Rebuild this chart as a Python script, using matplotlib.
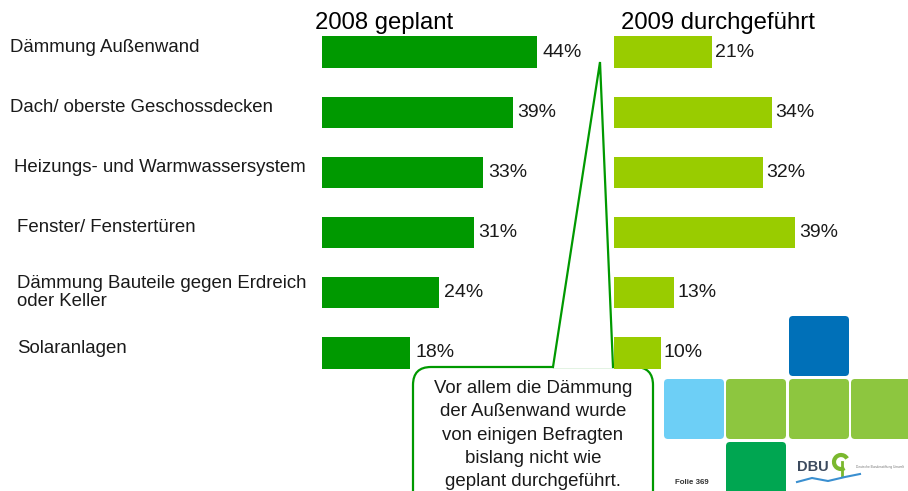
import matplotlib
matplotlib.use('Agg')
import matplotlib.pyplot as plt
import matplotlib.transforms as mtransforms
from matplotlib.patches import FancyBboxPatch, Polygon, Arc

plt.rcParams['font.family'] = ['Liberation Sans', 'DejaVu Sans']

# ===== DATEN =====
categories = [
    'Dämmung Außenwand',
    'Dach/ oberste Geschossdecken',
    'Heizungs- und Warmwassersystem',
    'Fenster/ Fenstertüren',
    'Dämmung Bauteile gegen Erdreich\noder Keller',
    'Solaranlagen',
]
geplant_2008 = [44, 39, 33, 31, 24, 18]
durchgefuehrt_2009 = [21, 34, 32, 39, 13, 10]
series_titles = ['2008 geplant', '2009 durchgeführt']
callout_text = ('Vor allem die Dämmung\nder Außenwand wurde\nvon einigen Befragten\n'
                'bislang nicht wie\ngeplant durchgeführt.')

# Einrückung der Kategorie-Beschriftungen (Pixel)
label_x = [10, 10, 14, 17, 17, 17]

W, H = 908, 491
fig = plt.figure(figsize=(W / 100, H / 100), dpi=100)

DARK_GREEN = '#009900'
LIGHT_GREEN = '#99cc00'

# Achsen in Pixelkoordinaten: Zeilen von y=22 bis y=383
y_top, y_bot = 22, 383
bottom = (H - y_bot) / H
height = (y_bot - y_top) / H
ax1 = fig.add_axes([322 / W, bottom, 50 * 4.89 / W, height])
ax2 = fig.add_axes([614 / W, bottom, 50 * 4.65 / W, height])

for ax, vals, color, off in [(ax1, geplant_2008, DARK_GREEN, 3.6),
                             (ax2, durchgefuehrt_2009, LIGHT_GREEN, 2.5)]:
    ypos = list(range(len(vals)))
    ax.barh(ypos, vals, height=0.52, color=color)
    for y, v in zip(ypos, vals):
        ax.annotate(f'{v}%', (v, y), xytext=(off, 0), textcoords='offset points',
                    va='center', ha='left', fontsize=14, color='#1a1a1a')
    ax.set_xlim(0, 50)
    ax.set_ylim(len(vals) - 0.5, -0.5)
    ax.axis('off')

# Kategorie-Beschriftungen
trans = mtransforms.blended_transform_factory(fig.transFigure, ax1.transData)
for i, (cat, lx) in enumerate(zip(categories, label_x)):
    dy = -0.08 if '\n' not in cat else 0.0
    ax1.text(lx / W, i + dy, cat, transform=trans, ha='left', va='center',
             fontsize=13.4, linespacing=1.05, color='#1a1a1a', clip_on=False)

# ===== Overlay in Pixelkoordinaten =====
deco = fig.add_axes([0, 0, 1, 1], zorder=-1)
deco.set_xlim(0, W)
deco.set_ylim(H, 0)
deco.axis('off')

deco.text(315, 29, series_titles[0], fontsize=17.2, ha='left', va='baseline')
deco.text(621, 29, series_titles[1], fontsize=17.2, ha='left', va='baseline')

# Sprechblase
box = FancyBboxPatch((413 + 18, 367 + 18), 240 - 36, 160, boxstyle='round,pad=18',
                     fc='white', ec=DARK_GREEN, lw=1.6)
deco.add_patch(box)
deco.add_patch(Polygon([(553, 368), (600, 62), (613, 368)], closed=True,
                       fc='white', ec='none'))
deco.plot([553, 600, 613], [367, 62, 367], color=DARK_GREEN, lw=1.6,
          solid_joinstyle='miter')
deco.text(533, 435, callout_text, ha='center', va='center', fontsize=13.4,
          linespacing=1.48, color='#1a1a1a')

# DBU-Logo (Kacheln)
tiles = [(789, 316, '#0070b8'), (664, 379, '#6dcff6'), (726, 379, '#8dc63f'),
         (789, 379, '#8dc63f'), (851, 379, '#8dc63f'), (726, 442, '#00a651')]
for tx, ty, tc in tiles:
    deco.add_patch(FancyBboxPatch((tx + 4, ty + 4), 52, 52,
                                  boxstyle='round,pad=4', fc=tc, ec='none'))

# weiße Fläche für Logo-Schriftzug
deco.add_patch(FancyBboxPatch((791, 446), 120, 60, boxstyle='square,pad=0',
                              fc='white', ec='none'))
deco.text(797, 467, 'DBU', fontsize=10.5, fontweight='bold', color='#3c4a5e',
          ha='left', va='center')
deco.add_patch(Arc((841, 462), 14, 14, theta1=60, theta2=330, color='#7ab82e', lw=3))
deco.plot([842, 842], [462, 476], color='#7ab82e', lw=2)
deco.plot([797, 812, 828, 845, 860], [482, 478, 481, 477, 474], color='#3a8fd0', lw=1.5)
deco.text(856, 467, 'Deutsche Bundesstiftung Umwelt', fontsize=2.3, color='#777777',
          ha='left', va='center')

deco.text(675, 483, 'Folie 369', fontsize=5.7, fontweight='bold', color='#333333',
          ha='left', va='center')

fig.savefig('out.png', dpi=100)
